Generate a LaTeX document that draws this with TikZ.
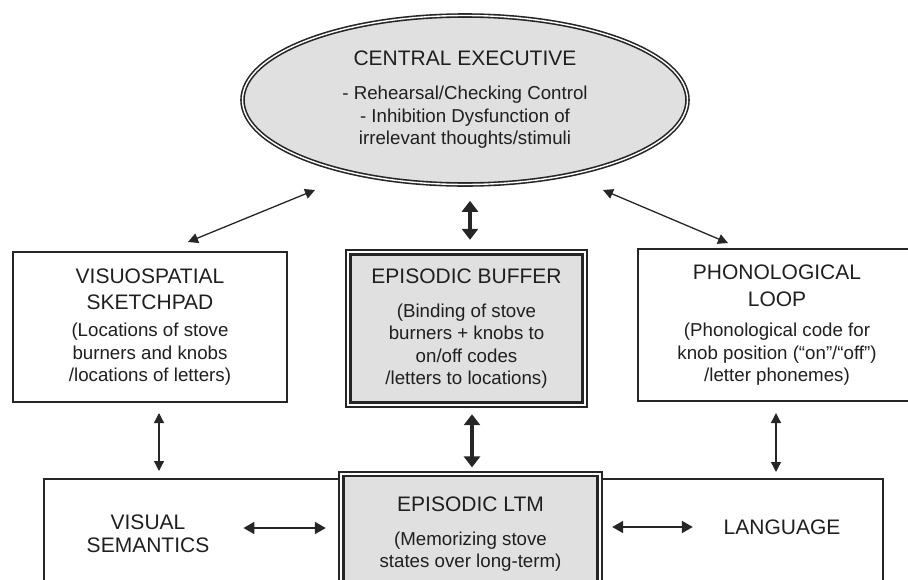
\documentclass[tikz,border=0pt]{standalone}
\usepackage{fontspec}
\setmainfont{Liberation Sans}
\usetikzlibrary{shapes.geometric,arrows.meta}

\definecolor{fillgrey}{RGB}{224,224,224}
\definecolor{inkgrey}{RGB}{38,38,38}
\newcommand{\hd}{\fontsize{21}{22.5}\selectfont}
\newcommand{\bd}{\fontsize{18.7}{22.5}\selectfont}

\begin{document}
\begin{tikzpicture}[x=1pt,y=-1pt,
  every node/.style={text=black!88},
  plainbox/.style={rectangle,draw=inkgrey,line width=2pt,align=center,inner sep=0pt,font=\bd},
  greybox/.style={rectangle,draw=inkgrey,fill=fillgrey,double=white,double distance=2pt,line width=2.4pt,align=center,inner sep=0pt,font=\bd},
  thinarr/.style={{Triangle[length=10pt,width=10pt]}-{Triangle[length=10pt,width=10pt]},line width=1.3pt,draw=inkgrey},
  midarr/.style={{Triangle[length=11pt,width=12pt]}-{Triangle[length=11pt,width=12pt]},line width=2pt,draw=inkgrey},
  thickarr/.style={{Triangle[length=11pt,width=16pt]}-{Triangle[length=11pt,width=16pt]},line width=4.5pt,draw=inkgrey}]

\useasboundingbox (0,0) rectangle (908,579);
\clip (0,0) rectangle (908,579);

%Central executive
\node[ellipse,draw=inkgrey,fill=fillgrey,double=white,double distance=1.4pt,line width=1.6pt,
      minimum width=445pt,minimum height=169pt,inner sep=0pt,align=center,font=\bd] (ce) at (465,100)
  {\hd CENTRAL EXECUTIVE\\[11.5pt]\bd - Rehearsal/Checking Control\\- Inhibition Dysfunction of\\irrelevant thoughts/stimuli};

%Slave systems
\node[plainbox,minimum width=274pt,minimum height=150pt] (vis) at (150,327)
  {\hd VISUOSPATIAL\\[3.5pt]\hd SKETCHPAD\\[5pt]\bd (Locations of stove\\burners and knobs\\/locations of letters)};
\node[greybox,minimum width=236.2pt,minimum height=152.2pt] (buf) at (466.5,328.5)
  {\hd EPISODIC BUFFER\\[11.5pt]\bd (Binding of stove\\burners + knobs to\\on/off codes\\/letters to locations)};
\node[plainbox,minimum width=278pt,minimum height=152pt] (pho) at (777,325)
  {\hd PHONOLOGICAL\\[4.5pt]\hd LOOP\\[8pt]\bd (Phonological code for\\knob position (``on''/``off'')\\/letter phonemes)};

%Long-term stores
\node[plainbox,minimum width=839pt,minimum height=110pt] (sem) at (463.5,534) {};
\node[greybox,minimum width=258.2pt,minimum height=120pt] (ltm) at (470.5,534)
  {\hd EPISODIC LTM\\[11.5pt]\bd (Memorizing stove\\states over long-term)};
\node[align=center,font=\hd,inner sep=0pt] (vissem) at (148,534) {VISUAL\\SEMANTICS};
\node[font=\hd,inner sep=0pt] (lang) at (782,527) {LANGUAGE};

%Bridges
\draw ([shift={(-150,90)}]ce.center) edge[thinarr] ([shift={(38,-9)}]vis.north);
\draw ([shift={(138,90)}]ce.center) edge[thinarr] ([shift={(-49,-5)}]pho.north);
\draw ([xshift=5pt]ce.south) edge[thickarr,shorten <=15.5pt,shorten >=11.4pt] ([xshift=3.5pt]buf.north);
\draw ([xshift=5.5pt]buf.south) edge[thickarr,shorten <=8.4pt,shorten >=5.4pt] ([xshift=1.5pt]ltm.north);
\draw ([xshift=9pt]vis.south) edge[thinarr,shorten <=10pt,shorten >=7pt] ([xshift=-304.5pt]sem.north);
\draw ([xshift=-1pt]pho.south) edge[thinarr,shorten <=11pt,shorten >=6pt] ([xshift=312.5pt]sem.north);
\draw ([yshift=6pt]vissem.east) edge[midarr,shorten <=34pt,shorten >=14.4pt] ([yshift=6pt]ltm.west);
\draw ([yshift=7pt]ltm.east) edge[midarr,shorten <=11.4pt,shorten >=30.6pt] (lang.west);

\end{tikzpicture}
\end{document}
